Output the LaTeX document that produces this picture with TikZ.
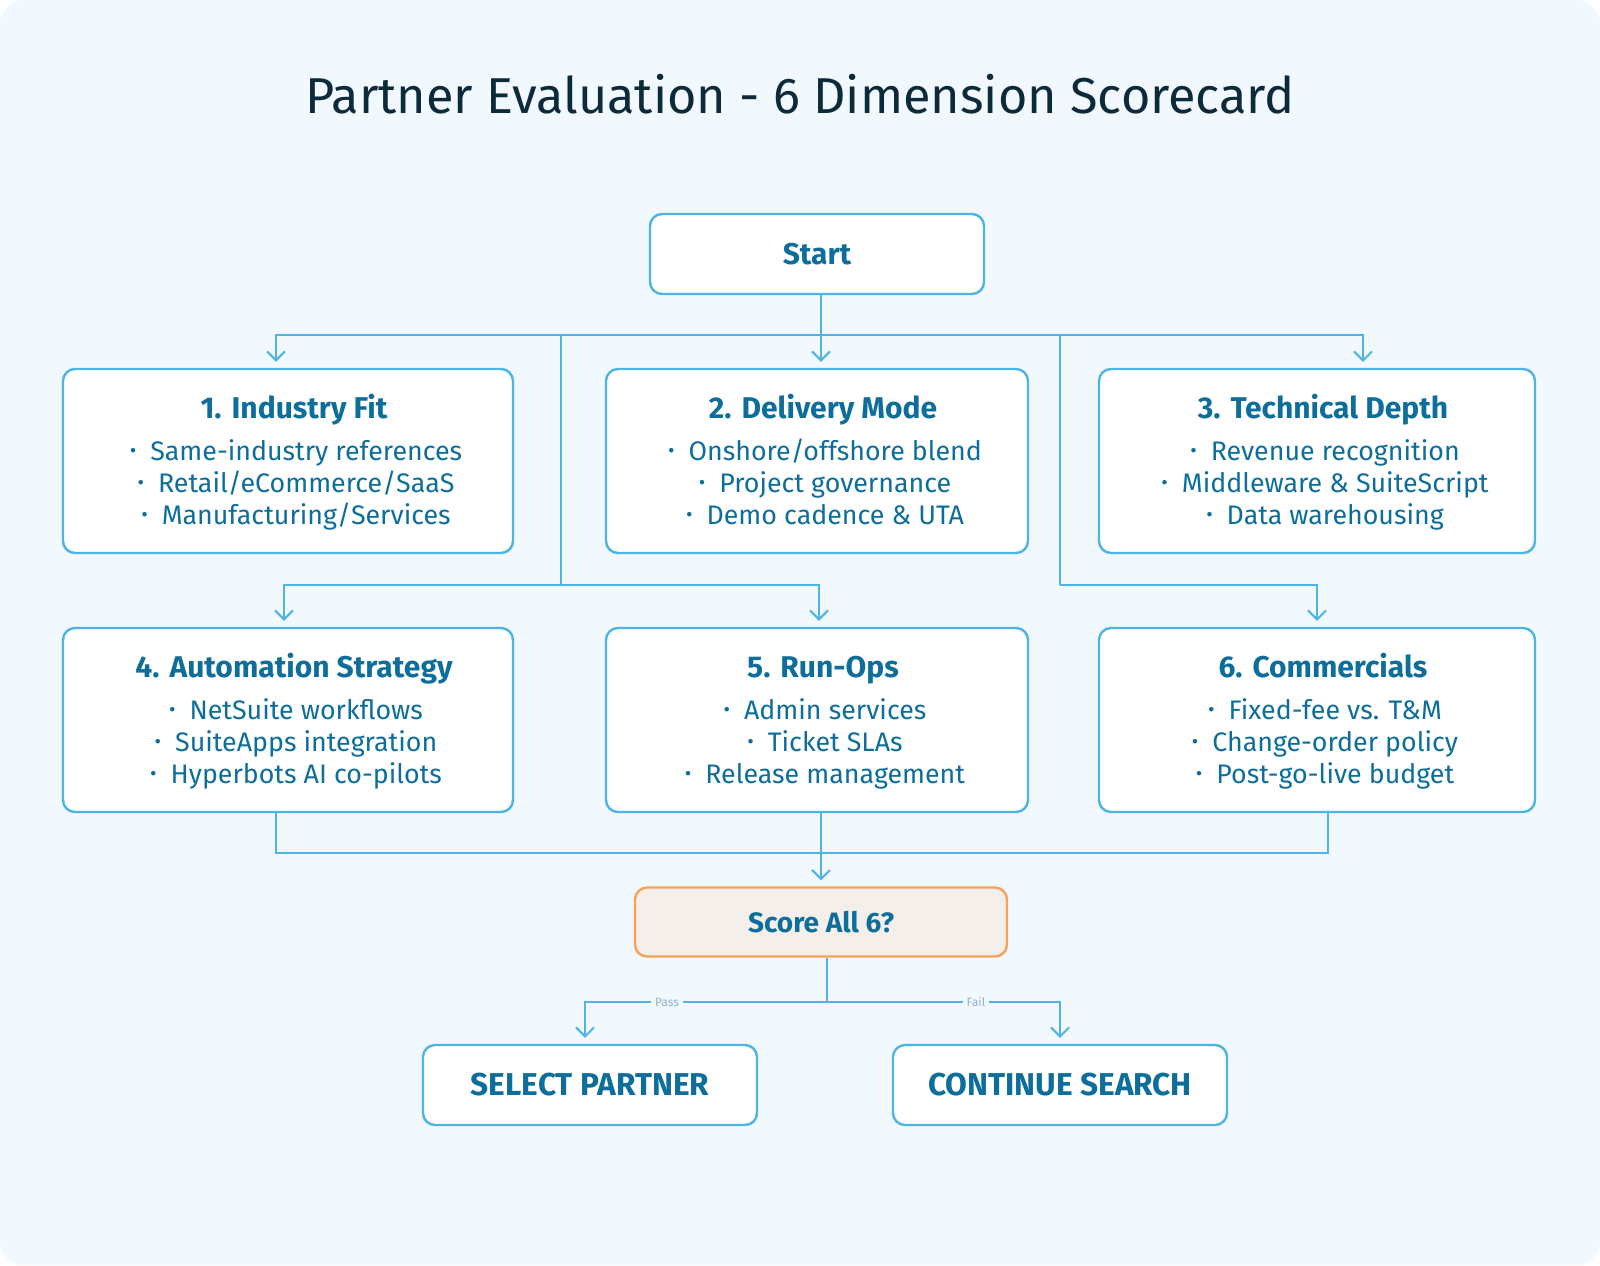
\documentclass[tikz,border=0pt]{standalone}
\usepackage{fontspec}
\setmainfont{Fira Sans}
\usetikzlibrary{arrows.meta,positioning,calc}
\definecolor{canvas}{HTML}{F1F8FE}
\definecolor{wire}{HTML}{4DB4E3}
\definecolor{ink}{HTML}{0E6E9B}
\definecolor{titleink}{HTML}{0D2A3A}
\definecolor{decide}{HTML}{F7A25B}
\definecolor{decidefill}{HTML}{F4EFEB}
\definecolor{faint}{HTML}{8FB3C9}
\newcommand{\bul}{\hspace*{8pt}\strut\raisebox{1.5pt}{\fontsize{10}{10}\selectfont\textbullet}\hspace{7pt}}
\newcommand{\head}[1]{{\bfseries\fontsize{15}{17}\selectfont\hspace*{6pt}\rule{0pt}{15pt}\strut #1}\\[4pt]}
\tikzset{
  dimbox/.style={draw=wire, line width=1.2pt, rounded corners=6pt, fill=white,
    align=center, text=ink, minimum height=92pt, inner sep=0pt,
    font=\fontsize{13.4}{15.8}\selectfont},
  endbox/.style={draw=wire, line width=1.2pt, rounded corners=6pt, fill=white,
    text=ink, minimum width=167pt, minimum height=40pt,
    font=\bfseries\fontsize{15.8}{18}\selectfont},
  scorebox/.style={endbox, draw=decide, fill=decidefill, minimum width=186pt,
    minimum height=34.5pt, font=\bfseries\fontsize{14}{16}\selectfont},
  link/.style={draw=wire, line width=1pt},
  arr/.style={link, -{Straight Barb[length=4.5pt,width=9pt]}, shorten >=3pt},
  flag/.style={fill=canvas, text=faint, inner sep=2pt, font=\fontsize{6}{7}\selectfont}
}
\begin{document}
\begin{tikzpicture}[x=0.5pt,y=-0.5pt]
  \fill[white] (0,0) rectangle (1600,1265);
  \fill[canvas, rounded corners=12pt] (0,0) rectangle (1600,1265);
  \useasboundingbox (0,0) rectangle (1600,1265);

  \node[text=titleink, font=\fontsize{25.2}{29}\selectfont] (title) at (800,94)
    {Partner Evaluation - 6 Dimension Scorecard};

  \node[endbox, font=\bfseries\fontsize{15}{17}\selectfont] (start) at (817,254) {Start};

  % six dimensions
  \node[dimbox, minimum width=225pt] (d1) at (288,461)
    {\head{1.\hspace{5pt}Industry Fit}\bul Same-industry references\\\bul Retail/eCommerce/SaaS\\\bul Manufacturing/Services};
  \node[dimbox, minimum width=211pt] (d2) at (817,461)
    {\head{2.\hspace{5pt}Delivery Mode}\bul Onshore/offshore blend\\\bul Project governance\\\bul Demo cadence \& UTA};
  \node[dimbox, minimum width=218pt] (d3) at (1317,461)
    {\head{3.\hspace{5pt}Technical Depth}\bul Revenue recognition\\\bul Middleware \& SuiteScript\\\bul Data warehousing};
  \node[dimbox, minimum width=225pt] (d4) at (288,720)
    {\head{4.\hspace{5pt}Automation Strategy}\bul NetSuite workflows\\\bul SuiteApps integration\\\bul Hyperbots AI co-pilots};
  \node[dimbox, minimum width=211pt] (d5) at (817,720)
    {\head{5.\hspace{5pt}Run-Ops}\bul Admin services\\\bul Ticket SLAs\\\bul Release management};
  \node[dimbox, minimum width=218pt] (d6) at (1317,720)
    {\head{6.\hspace{5pt}Commercials}\bul Fixed-fee vs. T\&M\\\bul Change-order policy\\\bul Post-go-live budget};

  \node[scorebox] (score) at (821,922) {Score All 6?};
  \node[endbox] (select) at (590,1085) {SELECT PARTNER};
  \node[endbox] (cont) at (1060,1085) {CONTINUE SEARCH};

  % start to the dimensions
  \coordinate (top) at (821,335);
  \coordinate (fork1) at (561,335);
  \coordinate (fork2) at (1060,335);
  \coordinate (low1) at (561,585);
  \coordinate (low2) at (1060,585);
  \draw[link] ([xshift=2pt]start.south) -- (top);
  \draw[arr] (top) -| ([xshift=-6pt]d1.north);
  \draw[arr] (top) -- ([xshift=2pt]d2.north);
  \draw[arr] (top) -| ([xshift=23pt]d3.north);
  \draw[link] (fork1) -- (low1);
  \draw[link] (fork2) -- (low2);
  \draw[arr] (low1) -| ([xshift=-2pt]d4.north);
  \draw[arr] (low1) -| ([xshift=1pt]d5.north);
  \draw[arr] (low2) -| (d6.north);

  % dimensions to the score
  \coordinate (merge) at (821,853);
  \draw[link] ([xshift=-6pt]d4.south) |- (merge);
  \draw[link] ([xshift=5.5pt]d6.south) |- (merge);
  \draw[arr] ([xshift=2pt]d5.south) -- (score.north);

  % outcome
  \coordinate (split) at (827,1002);
  \draw[link] ([xshift=3pt]score.south) -- (split);
  \draw[arr] (split) -| ([xshift=-2.5pt]select.north);
  \draw[arr] (split) -| (cont.north);
  \node[flag] (pass) at (667,1002) {Pass};
  \node[flag] (fail) at (976,1002) {Fail};
\end{tikzpicture}
\end{document}
